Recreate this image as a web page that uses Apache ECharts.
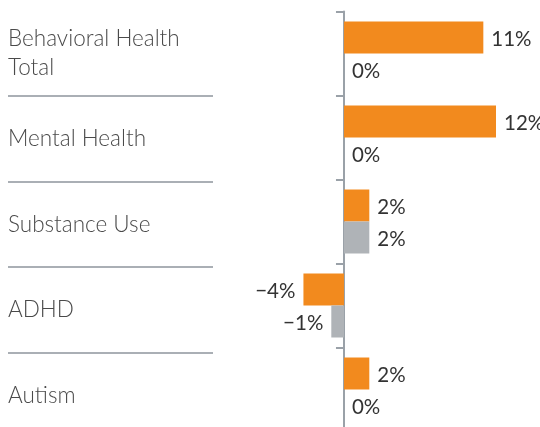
<!DOCTYPE html>
<html>
<head>
<meta charset="utf-8">
<script src="https://cdn.jsdelivr.net/npm/echarts@6/dist/echarts.min.js"></script>
<style>
  html, body { margin: 0; padding: 0; background: #fff; }
  #chart { width: 540px; height: 427px; }
</style>
</head>
<body>
<div id="chart"></div>
<script>
const categories = ['Behavioral Health\nTotal', 'Mental Health', 'Substance Use', 'ADHD', 'Autism']
// orange = first series, gray = second series (percent change)
const orangeValues = [11, 12, 2, -3.2, 2]
const grayValues = [0, 0, 2, -1, 0]
const orangeLabels = ['11%', '12%', '2%', '\u22124%', '2%']
const grayLabels = ['0%', '0%', '2%', '\u22121%', '0%']

const ORANGE = '#F28A1E'
const GRAY = '#AFB3B7'
const AXIS = '#9AA1A8'

function barData(values, labels) {
  return values.map((v, i) => ({
    value: v,
    label: {
      position: v < 0 ? 'left' : 'right',
      formatter: labels[i],
    },
  }))
}

const valueLabel = {
  show: true,
  distance: 8,
  offset: [0, 1.5],
  fontFamily: 'Lato',
  fontSize: 20.5,
  color: '#333',
}

const chart = echarts.init(document.getElementById('chart'), null, { renderer: 'canvas' })

chart.setOption({
  animation: false,
  backgroundColor: '#fff',
  grid: [
    // bars
    { left: 293.3, right: 44, top: 11.5, height: 420, outerBoundsMode: 'none' },
    // category names + row separators on the left
    { left: 8, width: 205, top: 10.4, height: 428, outerBoundsMode: 'none' },
  ],
  xAxis: [
    {
      gridIndex: 0,
      type: 'value',
      min: -4,
      max: 12,
      show: false,
    },
    {
      gridIndex: 1,
      type: 'value',
      show: false,
    },
  ],
  yAxis: [
    {
      gridIndex: 0,
      type: 'category',
      inverse: true,
      data: categories,
      position: 'left',
      axisLine: { onZero: true, lineStyle: { color: AXIS, width: 2 } },
      axisTick: { show: true, length: 8, lineStyle: { color: AXIS, width: 2 } },
      axisLabel: { show: false },
    },
    {
      gridIndex: 1,
      type: 'category',
      inverse: true,
      data: categories,
      axisLine: { show: false },
      axisTick: { show: false },
      axisLabel: {
        inside: true,
        margin: 0,
        align: 'left',
        fontFamily: 'Lato',
        fontWeight: 300,
        fontSize: 22.5,
        lineHeight: 29,
        color: '#4a4a4a',
      },
      splitLine: {
        show: true,
        showMinLine: false,
        showMaxLine: false,
        lineStyle: { color: '#8E959C', width: 1.5 },
      },
    },
  ],
  series: [
    {
      type: 'bar',
      xAxisIndex: 0,
      yAxisIndex: 0,
      data: barData(orangeValues, orangeLabels),
      barWidth: 32,
      barGap: '0%',
      itemStyle: { color: ORANGE },
      label: valueLabel,
    },
    {
      type: 'bar',
      xAxisIndex: 0,
      yAxisIndex: 0,
      data: barData(grayValues, grayLabels),
      barWidth: 32,
      barGap: '0%',
      itemStyle: { color: GRAY },
      label: valueLabel,
    },
  ],
})
</script>
</body>
</html>
